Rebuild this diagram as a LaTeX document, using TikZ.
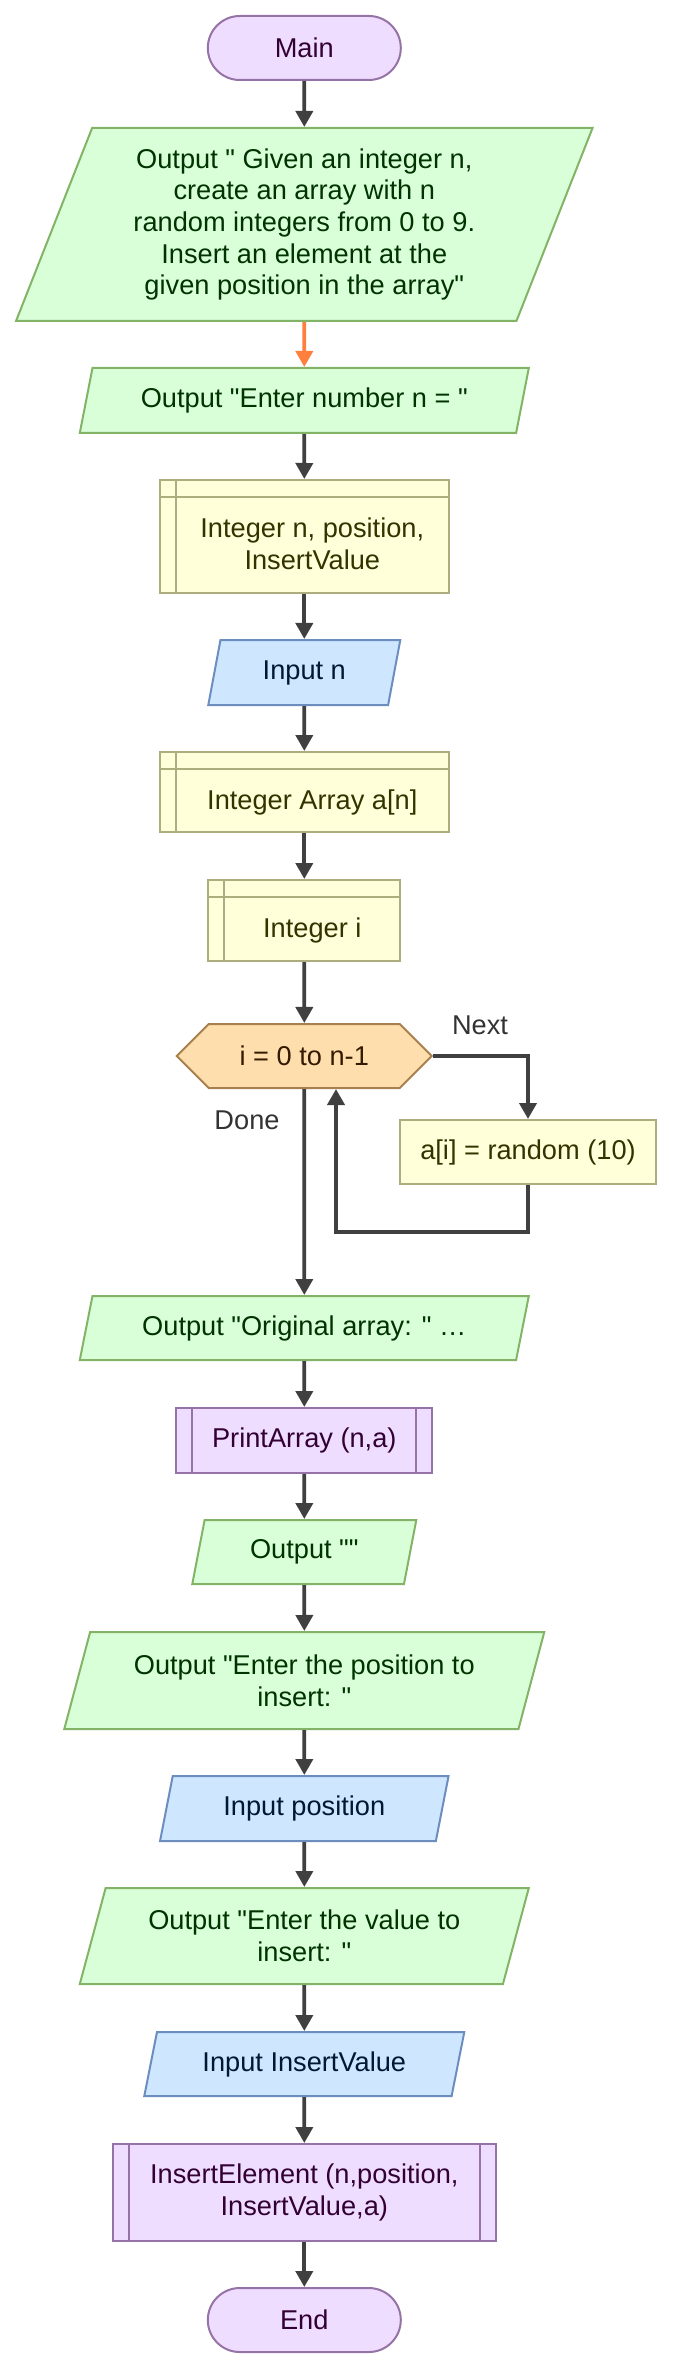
\documentclass[tikz,border=0pt]{standalone}
\usepackage{fontspec}
\setmainfont{Liberation Sans}[Ligatures=TeXOff]
\usetikzlibrary{shapes.geometric,shapes.symbols,arrows.meta}

\definecolor{termfill}{HTML}{EEDDFF}
\definecolor{termdraw}{HTML}{9673A6}
\definecolor{termtext}{HTML}{330033}
\definecolor{outfill}{HTML}{D9FFD9}
\definecolor{outdraw}{HTML}{82B366}
\definecolor{outtext}{HTML}{003300}
\definecolor{infill}{HTML}{CFE6FF}
\definecolor{indraw}{HTML}{6C8EBF}
\definecolor{intext}{HTML}{001933}
\definecolor{declfill}{HTML}{FFFFD9}
\definecolor{decldraw}{HTML}{ADAD80}
\definecolor{decltext}{HTML}{333300}
\definecolor{loopfill}{HTML}{FFDEAD}
\definecolor{loopdraw}{HTML}{A6804D}
\definecolor{looptext}{HTML}{331A00}
\definecolor{flowc}{HTML}{404040}
\definecolor{firstc}{HTML}{FF7F3F}
\definecolor{tagtext}{HTML}{333333}

% text of a declaration box sits right of and below its inner lines
\newcommand{\declshift}[1]{\hspace*{8pt}\raisebox{-9pt}[0pt][0pt]{\begin{tabular}{@{}c@{}}#1\end{tabular}}}

\begin{document}
\begin{tikzpicture}[x=0.5pt, y=-0.5pt,
    every node/.style={font=\fontsize{13.6pt}{15.85pt}\selectfont, align=center, inner sep=0pt},
    termbox/.style={draw=termdraw, fill=termfill, text=termtext, line width=1pt, rounded corners=16pt, minimum width=96.5pt, minimum height=32pt},
    outbox/.style={trapezium, trapezium left angle=63.43, trapezium right angle=116.57, trapezium stretches body, draw=outdraw, fill=outfill, text=outtext, line width=1pt},
    inbox/.style={trapezium, trapezium left angle=63.43, trapezium right angle=116.57, trapezium stretches body, draw=indraw, fill=infill, text=intext, line width=1pt},
    declbox/.style={rectangle, align=none, draw=decldraw, fill=declfill, text=decltext, line width=1pt,
        path picture={\draw[decldraw, line width=1pt] ([xshift=8pt]path picture bounding box.north west) -- ([xshift=8pt]path picture bounding box.south west)
            ([yshift=-8.5pt]path picture bounding box.north west) -- ([yshift=-8.5pt]path picture bounding box.north east);}},
    procbox/.style={rectangle, draw=decldraw, fill=declfill, text=decltext, line width=1pt},
    loopbox/.style={signal, signal to=west and east, signal pointer angle=90, draw=loopdraw, fill=loopfill, text=looptext, line width=1pt},
    callbox/.style={rectangle, draw=termdraw, fill=termfill, text=termtext, line width=1pt,
        path picture={\draw[termdraw, line width=1pt] ([xshift=8pt]path picture bounding box.north west) -- ([xshift=8pt]path picture bounding box.south west)
            ([xshift=-8pt]path picture bounding box.north east) -- ([xshift=-8pt]path picture bounding box.south east);}},
    flow/.style={draw=flowc, line width=1.9pt, -{Triangle[length=8pt,width=8.5pt]}},
    flowtag/.style={text=tagtext}]
    \useasboundingbox (0,0) rectangle (673,2369);

    \node[termbox] (main) at (304.3,48) {Main};
    \node[outbox, minimum width=288.25pt, minimum height=96.5pt] (intro) at (304.3,224.5) {Output " Given an integer n,\\ create an array with n\\ random integers from 0 to 9.\\ Insert an element at the\\ given position in the array"};
    \node[outbox, minimum width=224.5pt, minimum height=32.5pt] (enter) at (304.3,400.5) {Output "Enter number n = "};
    \node[declbox, minimum width=144.25pt, minimum height=56.5pt] (vars) at (304.3,536.5) {\declshift{Integer n, position,\\ InsertValue}};
    \node[inbox, minimum width=96pt, minimum height=32.5pt] (readn) at (304.3,672.5) {Input n};
    \node[declbox, minimum width=144.25pt, minimum height=40pt] (arr) at (304.3,792) {\declshift{Integer Array a[n]}};
    \node[declbox, minimum width=96pt, minimum height=40.5pt] (vari) at (304.3,920.5) {\declshift{Integer i}};
    \node[loopbox, minimum width=127.5pt, minimum height=32pt] (fori) at (304.3,1056) {i = 0 to n-1};
    \node[procbox, minimum width=128pt, minimum height=32pt] (rand) at (528,1152) {a[i] = random (10)};
    \node[outbox, minimum width=224.5pt, minimum height=32pt] (orig) at (304.3,1328) {Output "Original array: " …};
    \node[callbox, minimum width=128pt, minimum height=32.5pt] (print) at (304.3,1440.5) {PrintArray (n,a)};
    \node[outbox, minimum width=112pt, minimum height=32pt] (blank) at (304.3,1552) {Output ""};
    \node[outbox, minimum width=240pt, minimum height=48.5pt] (askpos) at (304.3,1680.5) {Output "Enter the position to\\ insert: "};
    \node[inbox, minimum width=144.25pt, minimum height=32.5pt] (readpos) at (304.3,1808.5) {Input position};
    \node[outbox, minimum width=224.5pt, minimum height=48pt] (askval) at (304.3,1936) {Output "Enter the value to\\ insert: "};
    \node[inbox, minimum width=160pt, minimum height=32pt] (readval) at (304.3,2064) {Input InsertValue};
    \node[callbox, minimum width=191.5pt, minimum height=48.5pt] (insert) at (304.3,2192.5) {InsertElement (n,position,\\ InsertValue,a)};
    \node[termbox] (end) at (304.3,2320) {End};

    \node[flowtag] (next) at (480,1025) {Next};
    \node[flowtag] (done) at (247,1120) {Done};
    \coordinate (back) at (336,1232);

    \draw[flow] (main) -- (intro);
    \draw[flow, draw=firstc] (intro) -- (enter);
    \draw[flow] (enter) -- (vars);
    \draw[flow] (vars) -- (readn);
    \draw[flow] (readn) -- (arr);
    \draw[flow] (arr) -- (vari);
    \draw[flow] (vari) -- (fori);
    \draw[flow] (fori.east) -| (rand.north);
    \draw[flow] (rand.south) |- (back) -- (back |- fori.south);
    \draw[flow] (fori) -- (orig);
    \draw[flow] (orig) -- (print);
    \draw[flow] (print) -- (blank);
    \draw[flow] (blank) -- (askpos);
    \draw[flow] (askpos) -- (readpos);
    \draw[flow] (readpos) -- (askval);
    \draw[flow] (askval) -- (readval);
    \draw[flow] (readval) -- (insert);
    \draw[flow] (insert) -- (end);
\end{tikzpicture}
\end{document}
